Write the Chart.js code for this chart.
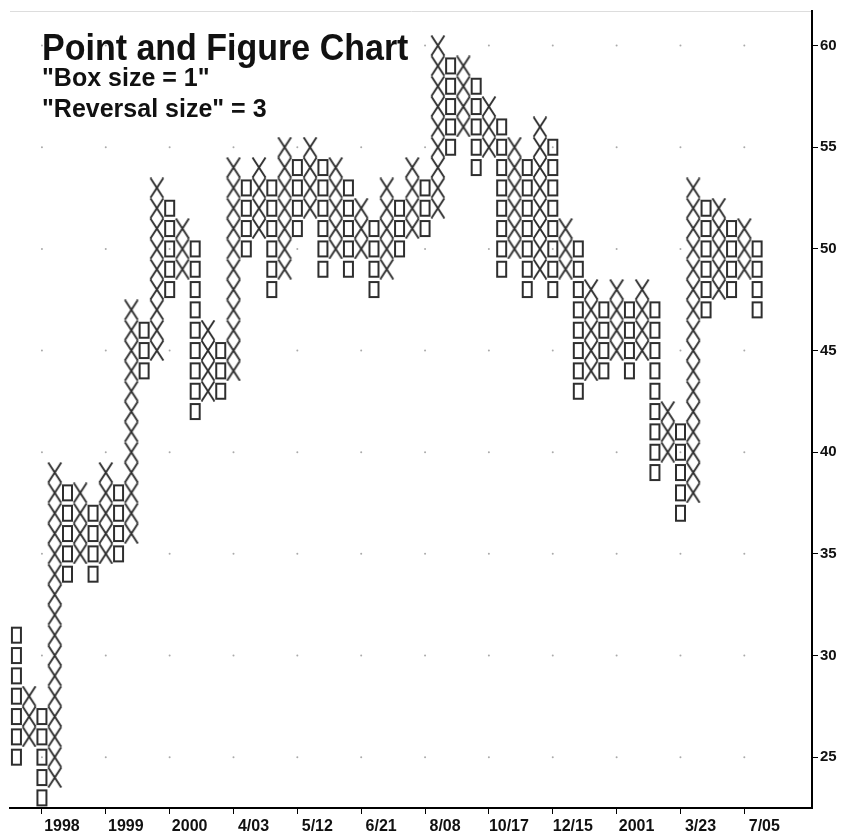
<!DOCTYPE html>
<html lang="en">
<head>
<meta charset="UTF-8">
<title>Point and Figure Chart</title>
<script src="https://cdn.jsdelivr.net/npm/chart.js"></script>
<style>
    body { margin: 0; background: #fff; }
    .wrap { position: relative; width: 845px; height: 832px; }
    .note { position: absolute; left: 42px; font-family: "Liberation Sans", Arial, sans-serif; font-weight: bold; color: #111; line-height: 1; white-space: nowrap; }
    .t1 { top: 31px; font-size: 34px; transform: scaleY(1.08); transform-origin: 0 100%; }
    .t2 { top: 65px; font-size: 25px; }
    .t3 { top: 96px; font-size: 25px; }
</style>
</head>
<body>
<div class="wrap">
    <canvas id="pf" width="845" height="832"></canvas>
    <div class="note t1">Point and Figure Chart</div>
    <div class="note t2">"Box size = 1"</div>
    <div class="note t3">"Reversal size" = 3</div>
</div>

<script>
    // one entry per column, columns alternate O, X, O, X ... (first is O)
    const colHigh = [31,28,27,39,38,38,37,39,38,47,46,53,52,51,50,46,45,54,53,54,53,55,54,55,54,54,53,52,51,53,52,54,53,60,59,59,58,57,56,55,54,56,55,51,50,48,47,48,47,48,47,42,41,53,52,52,51,51,50];
    const colLow  = [25,26,23,24,34,35,34,35,35,36,44,45,48,49,42,43,43,44,50,51,48,49,51,52,49,50,49,50,48,49,50,51,51,52,55,56,54,55,49,50,48,49,48,49,43,44,44,45,44,45,39,40,37,38,47,48,48,49,47];
    const firstColType = 'O';

    const xTickCols = [2,7,12,17,22,27,32,37,42,47,52,57];
    const xTickLabels = ['1998','1999','2000','4/03','5/12','6/21','8/08','10/17','12/15','2001','3/23','7/05'];
    const yTicks = [25,30,35,40,45,50,55,60];

    const ink = '#2e2e2e';

    // boxes of each column
    const xPts = [], oPts = [];
    colHigh.forEach((hi, i) => {
        const isO = (i % 2 === 0) === (firstColType === 'O');
        for (let v = colLow[i]; v <= hi; v++) {
            (isO ? oPts : xPts).push({ x: i, y: v });
        }
    });

    // faint dots where the tick lines cross
    const dots = [];
    xTickCols.forEach(c => yTicks.forEach(v => dots.push({ x: c, y: v })));

    // marker glyphs
    function makeX() {
        const c = document.createElement('canvas');
        c.width = 16; c.height = 21;
        const g = c.getContext('2d');
        g.strokeStyle = ink; g.lineWidth = 1.9;
        g.beginPath();
        g.moveTo(1.5, 0.5); g.lineTo(14.5, 20.5);
        g.moveTo(14.5, 0.5); g.lineTo(1.5, 20.5);
        g.stroke();
        return c;
    }
    function makeO() {
        const c = document.createElement('canvas');
        c.width = 13; c.height = 19;
        const g = c.getContext('2d');
        g.strokeStyle = ink; g.lineWidth = 2;
        g.strokeRect(2, 2, 9, 15);
        return c;
    }

    const labelFont = { family: '"Liberation Sans", Arial, sans-serif', weight: 'bold', size: 16 };

    new Chart(document.getElementById('pf'), {
        type: 'scatter',
        data: {
            datasets: [
                { label: 'X', data: xPts, pointStyle: makeX(), pointRadius: 6 },
                { label: 'O', data: oPts, pointStyle: makeO(), pointRadius: 6 },
                { label: 'grid', data: dots, order: 1, pointStyle: 'circle', pointRadius: 1, backgroundColor: '#aaa', borderWidth: 0 }
            ]
        },
        options: {
            responsive: false,
            animation: false,
            layout: { padding: { top: 10, left: 10, right: 0, bottom: 0 } },
            plugins: { legend: { display: false }, tooltip: { enabled: false } },
            scales: {
                x: {
                    type: 'linear',
                    position: 'bottom',
                    min: -0.5,
                    max: 62.3,
                    afterBuildTicks: s => { s.ticks = xTickCols.map(v => ({ value: v })); },
                    afterFit: s => { s.height = 24; },
                    grid: { drawOnChartArea: false, tickLength: 6, color: '#000' },
                    border: { color: '#000', width: 2 },
                    ticks: {
                        callback: (v, i) => xTickLabels[i],
                        labelOffset: 20,
                        padding: 3,
                        maxRotation: 0,
                        autoSkip: false,
                        color: '#111',
                        font: labelFont
                    }
                },
                top: {
                    type: 'linear',
                    axis: 'x',
                    position: 'top',
                    ticks: { display: false },
                    grid: { display: false, drawTicks: false },
                    border: { color: '#ddd', width: 1 },
                    afterFit: s => { s.height = 0; }
                },
                y: {
                    position: 'right',
                    min: 22.5,
                    max: 61.7,
                    afterBuildTicks: s => { s.ticks = yTicks.map(v => ({ value: v })); },
                    afterFit: s => { s.width = 33; },
                    grid: { drawOnChartArea: false, tickLength: 6, color: '#000' },
                    border: { color: '#000', width: 2 },
                    ticks: { padding: 2, color: '#111', font: { ...labelFont, size: 15 } }
                }
            }
        }
    });
</script>
</body>
</html>
